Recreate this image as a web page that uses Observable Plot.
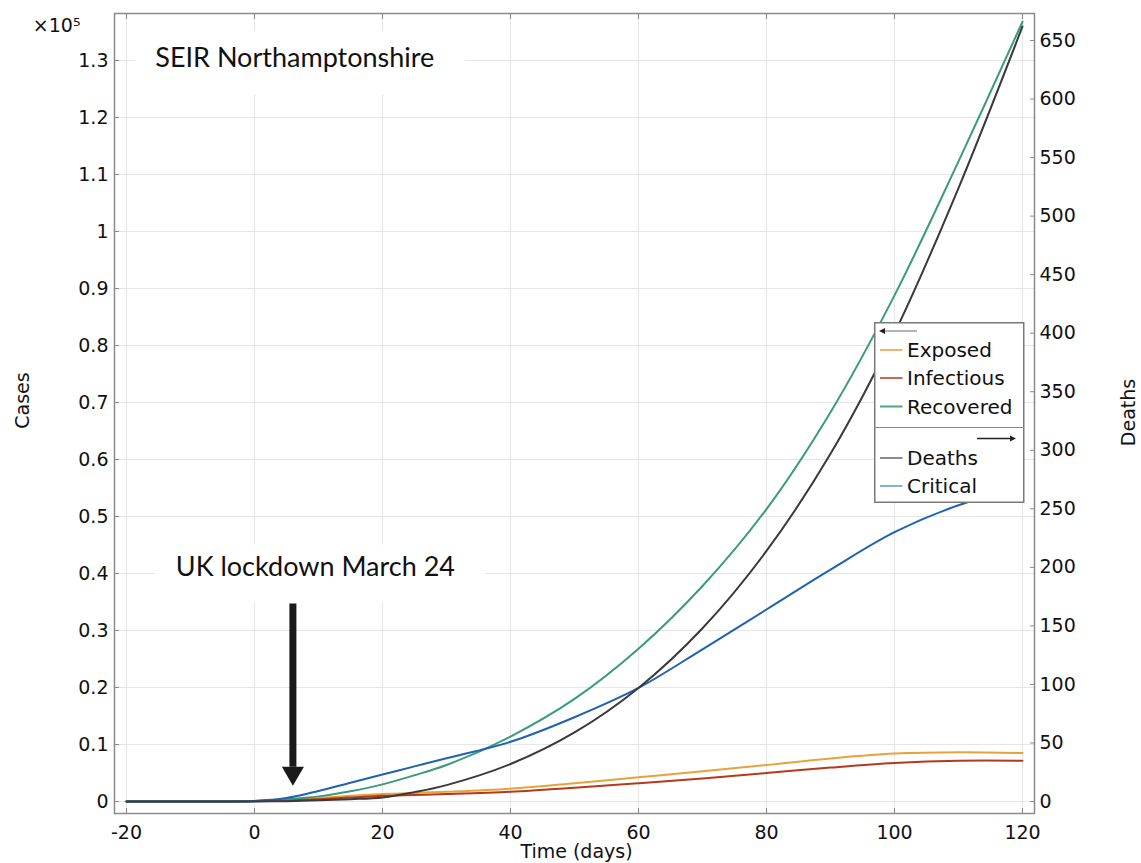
<!DOCTYPE html>
<html><head><meta charset="utf-8">
<script src="https://cdn.jsdelivr.net/npm/d3@7"></script>
<script src="https://cdn.jsdelivr.net/npm/@observablehq/plot@0.6"></script>
<style>
body{margin:0;background:#fff;}
#wrap{position:relative;width:1141px;height:863px;}
#legend{position:absolute;left:874px;top:322px;}
</style></head><body><div id="wrap"></div>
<script>
// Time (days)
const days =       [-20,-10,  0,  5,  10,  15,  20,  25,  30,   40,   50,   60,   70,   80,   90,  100,   110,   120];
// Left axis (cases)
const exposed =    [  0,  0,100,300, 600,1000,1300,1500,1700, 2250, 3200, 4250, 5300, 6400, 7550, 8400,  8650,  8500];
const infectious = [  0,  0, 50,200, 400, 700,1000,1150,1300, 1700, 2400, 3200, 4050, 5000, 5950, 6750,  7150,  7150];
const recovered =  [  0,  0,100,400, 900,1800,3000,4600,6400,11400,18000,26800,37800,51300,68300,88800,112300,136800];
// Right axis (deaths)
const deaths =     [  0,  0,  0,0.3,   1,   2, 3.5,   8,  14,   32,   59,   97,  148,  214,  297,  400,   524,   662];
const critical =   [  0,  0,0.5,  3,   9,  16,  23,  30,  37,   51,   72,   97,  130,  164,  198,  230,   253,   268];

const xTicks = [-20, 0, 20, 40, 60, 80, 100, 120];
const casesTicks = [0, 0.1, 0.2, 0.3, 0.4, 0.5, 0.6, 0.7, 0.8, 0.9, 1, 1.1, 1.2, 1.3]; // ×10^5
const deathTicks = [0, 50, 100, 150, 200, 250, 300, 350, 400, 450, 500, 550, 600, 650];

const seriesNames = ["Exposed", "Infectious", "Recovered", "Deaths", "Critical"];
const seriesColors = ["#e8a23a", "#b5391c", "#3a9b7b", "#3a3a3a", "#1f63b0"];
const legendColors = ["#ecb36a", "#c86a52", "#4ea68a", "#8a8a8a", "#7fb3de"];

// annotations (data space)
const titleBoxes = [
  {label: "SEIR Northamptonshire", x1: -18.6, x2: 33.0, y1: 123950, y2: 135000, tx: -15.5, ty: 130350},
  {label: "UK lockdown March 24", x1: -15.5, x2: 36.1, y1: 34800, y2: 45000, tx: -12.3, ty: 41000}
];
const lockdownArrow = [{day: 6, from: 34650, to: 6000, head: 5000}];

// death -> case scale factor for the right axis
const K = 205.4;

const leftRows = [];
const rightRows = [];
days.forEach((d, i) => {
  leftRows.push({day: d, v: exposed[i], s: "Exposed"});
  leftRows.push({day: d, v: infectious[i], s: "Infectious"});
  leftRows.push({day: d, v: recovered[i], s: "Recovered"});
  rightRows.push({day: d, v: deaths[i] * K, s: "Deaths"});
  rightRows.push({day: d, v: critical[i] * K, s: "Critical"});
});
const color = s => seriesColors[seriesNames.indexOf(s)];

const gridStroke = "#e6e6e6";
const axisStroke = "#8a8a8a";

const chart = Plot.plot({
  width: 1141,
  height: 863,
  marginLeft: 114,
  marginRight: 107,
  marginTop: 13,
  marginBottom: 50,
  style: {fontFamily: "DejaVu Sans, sans-serif", fontSize: "19px", background: "white", color: "#111"},
  x: {domain: [-21.875, 121.875]},
  y: {domain: [-2105, 138246]},
  marks: [
    Plot.gridX(xTicks, {stroke: gridStroke, strokeOpacity: 1, strokeWidth: 1.2}),
    Plot.gridY(casesTicks.map(v => v * 1e5), {stroke: gridStroke, strokeOpacity: 1, strokeWidth: 1.2}),
    Plot.rect(titleBoxes, {x1: "x1", x2: "x2", y1: "y1", y2: "y2", fill: "white"}),
    ...["Exposed", "Infectious", "Recovered"].map(s =>
      Plot.line(leftRows.filter(r => r.s === s), {x: "day", y: "v", stroke: color(s), strokeWidth: 2, curve: "catmull-rom"})),
    ...["Critical", "Deaths"].map(s =>
      Plot.line(rightRows.filter(r => r.s === s), {x: "day", y: "v", stroke: color(s), strokeWidth: 2, curve: "catmull-rom"})),
    Plot.ruleX(lockdownArrow, {x: "day", y1: "from", y2: "to", stroke: "#1a1a1a", strokeWidth: 7}),
    Plot.dot(lockdownArrow, {x: "day", y: "head", symbol: "triangle", r: 8.2, fill: "#1a1a1a", rotate: 180}),
    Plot.text(titleBoxes, {x: "tx", y: "ty", text: "label", textAnchor: "start", fontFamily: "Lato", fontSize: 27, fill: "#111"}),
    Plot.frame({stroke: axisStroke, strokeWidth: 1.5}),
    Plot.axisX(xTicks, {anchor: "bottom", tickSize: -5, tickPadding: 17, stroke: axisStroke, label: null, tickFormat: d => String(d)}),
    Plot.axisX(xTicks, {anchor: "top", tickSize: -5, tickPadding: 0, stroke: axisStroke, label: null, tickFormat: () => ""}),
    Plot.axisY(casesTicks.map(v => v * 1e5), {anchor: "left", tickSize: -5, tickPadding: 11, stroke: axisStroke, label: null, tickFormat: v => String(+(v / 1e5).toFixed(1))}),
    Plot.axisY(deathTicks.map(v => v * K), {anchor: "right", tickSize: -5, tickPadding: 10, stroke: axisStroke, label: null, tickFormat: v => String(Math.round(v / K))}),
    Plot.text(["Cases"], {frameAnchor: "left", dx: -92, dy: -13, rotate: -90, textAnchor: "middle", lineAnchor: "middle", fontSize: 19}),
    Plot.text(["Deaths"], {frameAnchor: "right", dx: 94, dy: -1, rotate: -90, textAnchor: "middle", lineAnchor: "middle", fontSize: 19}),
    Plot.text(["Time (days)"], {frameAnchor: "bottom", dx: 2, dy: 38, textAnchor: "middle", lineAnchor: "middle", fontSize: 19}),
    Plot.text(["×10⁵"], {frameAnchor: "top-left", dx: -34, dy: 12, textAnchor: "end", lineAnchor: "middle", fontSize: 19})
  ]
});
const wrap = document.getElementById("wrap");
wrap.appendChild(chart);

// Legend overlay
const leftGroup = ["Exposed", "Infectious", "Recovered"];
const rightGroup = ["Deaths", "Critical"];
const rowY = {Exposed: 28, Infectious: 56, Recovered: 84.5, Deaths: 136, Critical: 164};
let svg = `<svg width="151" height="182" xmlns="http://www.w3.org/2000/svg" style="font-family:'DejaVu Sans',sans-serif;font-size:20px">`;
svg += `<rect x="0.75" y="0.75" width="149" height="179.5" fill="white" stroke="#7a7a7a" stroke-width="1.5"/>`;
svg += `<line x1="10" x2="43" y1="9" y2="9" stroke="#9a9a9a" stroke-width="1.5"/><path d="M5,9 L11,6 L11,12 Z" fill="#222"/>`;
svg += `<line x1="0.75" x2="150" y1="105.5" y2="105.5" stroke="#8a8a8a" stroke-width="1.2"/>`;
svg += `<line x1="103" x2="137" y1="116.5" y2="116.5" stroke="#222" stroke-width="1.5"/><path d="M142,116.5 L136,113.5 L136,119.5 Z" fill="#222"/>`;
[...leftGroup, ...rightGroup].forEach(s => {
  const i = seriesNames.indexOf(s);
  const y = rowY[s];
  svg += `<line x1="6" x2="28.5" y1="${y}" y2="${y}" stroke="${legendColors[i]}" stroke-width="2"/>`;
  svg += `<text x="33" y="${y}" dy="0.36em" fill="#111">${s}</text>`;
});
svg += `</svg>`;
const leg = document.createElement("div");
leg.id = "legend";
leg.innerHTML = svg;
wrap.appendChild(leg);
</script>
</body></html>
